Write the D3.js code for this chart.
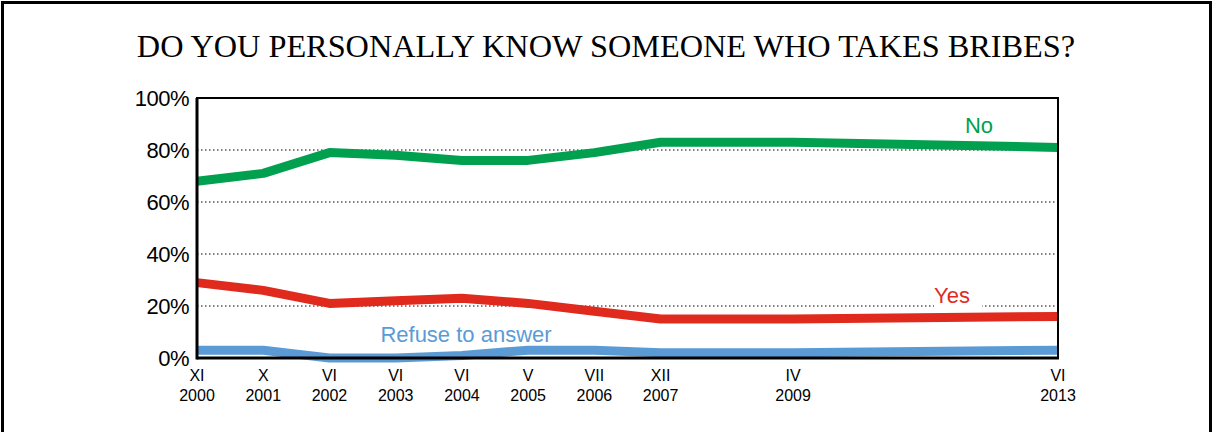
<!DOCTYPE html>
<html>
<head>
<meta charset="utf-8">
<script src="https://cdn.jsdelivr.net/npm/d3@7"></script>
<style>
  body { margin: 0; background: #fff; }
  svg { display: block; }
</style>
</head>
<body>
<div id="chart"></div>
<script>
// ---- data ----
var months = ["XI", "X", "VI", "VI", "VI", "V", "VII", "XII", "IV", "VI"];
var years = ["2000", "2001", "2002", "2003", "2004", "2005", "2006", "2007", "2009", "2013"];
// position of each survey along the time axis (steps)
var steps = [0, 1, 2, 3, 4, 5, 6, 7, 9, 13];
var noValues = [68, 71, 79, 78, 76, 76, 79, 83, 83, 81];
var yesValues = [29, 26, 21, 22, 23, 21, 18, 15, 15, 16];
var refuseValues = [3, 3, 0, 0, 1, 3, 3, 2, 2, 3];
var yTicks = [0, 20, 40, 60, 80, 100];

var series = [
  { name: "No", values: noValues, color: "#00a04f", lx: 979, ly: 133 },
  { name: "Yes", values: yesValues, color: "#e02a1e", lx: 952, ly: 303 },
  { name: "Refuse to answer", values: refuseValues, color: "#5b9bd5", lx: 466, ly: 342 }
];

// ---- svg setup ----
var svgWidth = 1212;
var svgHeight = 432;
var chartMargin = { top: 98, right: 154, bottom: 74, left: 197 };
var chartWidth = svgWidth - chartMargin.left - chartMargin.right;
var chartHeight = svgHeight - chartMargin.top - chartMargin.bottom;

var svg = d3.select("#chart")
  .append("svg")
  .attr("width", svgWidth)
  .attr("height", svgHeight);

// outer frame
svg.append("rect")
  .attr("x", 2.5).attr("y", 2.5)
  .attr("width", svgWidth - 4).attr("height", svgHeight + 20)
  .attr("fill", "none").attr("stroke", "#000").attr("stroke-width", 3);

// title
svg.append("text")
  .attr("x", 606).attr("y", 57)
  .attr("text-anchor", "middle")
  .attr("font-family", "'Liberation Serif', 'Times New Roman', serif")
  .attr("font-size", "32.3px")
  .attr("fill", "#000")
  .text("DO YOU PERSONALLY KNOW SOMEONE WHO TAKES BRIBES?");

var chartGroup = svg.append("g")
  .attr("transform", `translate(${chartMargin.left}, ${chartMargin.top})`);

// ---- scales ----
var xScale = d3.scaleLinear()
  .domain([0, 13])
  .range([0, chartWidth]);

var yScale = d3.scaleLinear()
  .domain([0, 100])
  .range([chartHeight, 0]);

// dotted gridlines
chartGroup.selectAll(".grid")
  .data(yTicks.filter(d => d > 0 && d < 100))
  .enter()
  .append("line")
  .attr("x1", 0).attr("x2", chartWidth)
  .attr("y1", d => yScale(d)).attr("y2", d => yScale(d))
  .attr("stroke", "#000")
  .attr("stroke-width", 1)
  .attr("stroke-dasharray", "1.5,2.5");

// y axis labels
var yAxis = d3.axisLeft(yScale)
  .tickValues(yTicks)
  .tickSize(0)
  .tickPadding(8)
  .tickFormat(d => d + "%");

chartGroup.append("g")
  .call(yAxis)
  .call(g => g.select(".domain").remove())
  .selectAll("text")
  .attr("font-family", "'Liberation Sans', Arial, sans-serif")
  .attr("font-size", "22px")
  .attr("letter-spacing", "-0.5px")
  .attr("fill", "#000");

// ---- lines ----
var line = d3.line()
  .x((d, i) => xScale(steps[i]))
  .y(d => yScale(d));

chartGroup.selectAll(".series")
  .data(series)
  .enter()
  .append("path")
  .attr("d", d => line(d.values))
  .attr("fill", "none")
  .attr("stroke", d => d.color)
  .attr("stroke-width", 9)
  .attr("stroke-linejoin", "round");

// plot frame (top / right thin, left / bottom thick)
chartGroup.append("rect")
  .attr("x", 0).attr("y", 0)
  .attr("width", chartWidth).attr("height", chartHeight)
  .attr("fill", "none").attr("stroke", "#000").attr("stroke-width", 2);

chartGroup.append("line")
  .attr("x1", 0).attr("x2", 0)
  .attr("y1", 0).attr("y2", chartHeight + 1.5)
  .attr("stroke", "#000").attr("stroke-width", 3);

chartGroup.append("line")
  .attr("x1", 0).attr("x2", chartWidth + 1)
  .attr("y1", chartHeight).attr("y2", chartHeight)
  .attr("stroke", "#000").attr("stroke-width", 3);

// ---- series labels ----
var labels = svg.selectAll(".lbl")
  .data(series)
  .enter()
  .append("g");

labels.filter(d => d.name === "Yes")
  .append("rect")
  .attr("x", d => d.lx - 18).attr("y", d => d.ly - 20)
  .attr("width", 48).attr("height", 24)
  .attr("fill", "#fff");

labels.append("text")
  .attr("x", d => d.lx).attr("y", d => d.ly)
  .attr("text-anchor", "middle")
  .attr("font-family", "'Liberation Sans', Arial, sans-serif")
  .attr("font-size", "22px")
  .attr("fill", d => d.color)
  .text(d => d.name);

// ---- x labels ----
var xLabels = svg.selectAll(".xl")
  .data(months)
  .enter()
  .append("text")
  .attr("text-anchor", "middle")
  .attr("font-family", "'Liberation Sans', Arial, sans-serif")
  .attr("font-size", "16px")
  .attr("fill", "#000")
  .attr("transform", (d, i) => `translate(${chartMargin.left + xScale(steps[i])}, 0)`);

xLabels.append("tspan").attr("x", 0).attr("y", 381).text(d => d);
xLabels.append("tspan").attr("x", 0).attr("y", 401).text((d, i) => years[i]);
</script>
</body>
</html>
